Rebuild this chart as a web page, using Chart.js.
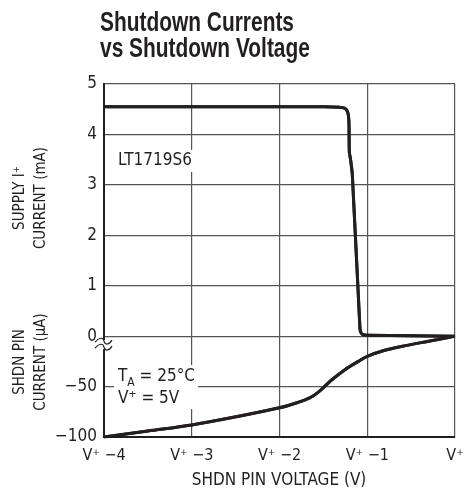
<!DOCTYPE html>
<html><head><meta charset="utf-8">
<script src="https://cdn.jsdelivr.net/npm/chart.js@4.4.1/dist/chart.umd.min.js"></script>
<style>html,body{margin:0;padding:0;background:#fff}canvas{display:block}</style>
</head><body>
<canvas id="c" width="464" height="495"></canvas>
<script>
// Supply I+ current (mA) vs SHDN pin voltage (V relative to V+)
const supplyV = [-4, -3, -2, -1.5, -1.32, -1.26, -1.23, -1.215, -1.208, -1.204, -1.19, -1.17, -1.083, -1.072, -1.05, -1.0, -0.5, 0];
const supplyI = [4.55, 4.55, 4.55, 4.55, 4.54, 4.52, 4.47, 4.38, 4.2, 3.65, 3.5, 3.2, 0.15, 0.07, 0.03, 0.02, 0.01, 0.0];
// SHDN pin current (µA)
const shdnV = [-4, -3.5, -3, -2.5, -2, -1.8, -1.65, -1.55, -1.4, -1.25, -1.1, -1.0, -0.8, -0.6, -0.3, 0];
const shdnI = [-100, -94, -88, -80, -71, -66, -61, -55, -43, -33, -25, -20, -14, -10, -5, 0];
// axis ticks
const xTicks = [-4, -3, -2, -1, 0];
const xTickLabels = ["V\u207A \u22124", "V\u207A \u22123", "V\u207A \u22122", "V\u207A \u22121", "V\u207A"];
const yTicks = [-2, -1, 0, 1, 2, 3, 4, 5];
const yTickLabels = ["\u2212100", "\u221250", "0", "1", "2", "3", "4", "5"];
const uAPerDivision = 50;

const FONT = "'Liberation Sans Narrow','DejaVu Sans Condensed','Liberation Sans',sans-serif";

const supplyData = supplyV.map((v, i) => ({x: v, y: supplyI[i]}));
const shdnData = shdnV.map((v, i) => ({x: v, y: shdnI[i] / uAPerDivision}));

const decor = {
  id: 'decor',
  afterDraw(chart) {
    const ctx = chart.ctx;
    const ca = chart.chartArea;
    const ys = chart.scales.y;
    ctx.save();
    // title (condensed bold)
    ctx.fillStyle = '#231f20';
    ctx.textAlign = 'left';
    ctx.textBaseline = 'alphabetic';
    ctx.font = "bold 27px 'Liberation Sans', sans-serif";
    const w1 = ctx.measureText('Shutdown Currents').width;
    const sx = 194 / w1;
    ctx.save();
    ctx.translate(100, 0);
    ctx.scale(sx, 1);
    ctx.fillText('Shutdown Currents', 0, 31);
    ctx.fillText('vs Shutdown Voltage', 0, 57);
    ctx.restore();
    // x title
    ctx.font = "17px " + FONT;
    ctx.textAlign = 'center';
    ctx.textBaseline = 'middle';
    ctx.fillText('SHDN PIN VOLTAGE (V)', 279, 481);
    // y titles
    function vtext(lines, cx, cy) {
      ctx.save();
      ctx.translate(cx, cy);
      ctx.rotate(-Math.PI / 2);
      ctx.textAlign = 'center';
      ctx.textBaseline = 'middle';
      lines.forEach((l, i) => ctx.fillText(l, 0, i * 21));
      ctx.restore();
    }
    ctx.font = "15px " + FONT;
    vtext(['SUPPLY I\u207A', 'CURRENT (mA)'], 20, 198);
    vtext(['SHDN PIN', 'CURRENT (\u00B5A)'], 20, 362);
    // annotations with white backgrounds
    ctx.font = "17px " + FONT;
    let w = ctx.measureText('LT1719S6').width;
    ctx.fillStyle = '#fff';
    ctx.fillRect(114, 150, w + 8, 22);
    ctx.fillStyle = '#231f20';
    ctx.textAlign = 'left';
    ctx.textBaseline = 'middle';
    ctx.fillText('LT1719S6', 118, 161);
    // T_A = 25°C with subscript
    ctx.fillStyle = '#fff';
    ctx.fillRect(114, 365, 84, 44);
    ctx.fillStyle = '#231f20';
    ctx.fillText('T', 118, 377);
    let tw = ctx.measureText('T').width;
    ctx.font = "12px " + FONT;
    ctx.fillText('A', 118 + tw, 383);
    let aw = ctx.measureText('A').width;
    ctx.font = "17px " + FONT;
    ctx.fillText(' = 25\u00B0C', 118 + tw + aw, 377);
    ctx.fillText('V\u207A = 5V', 118, 399);
    // redraw curves on top of label boxes
    chart.getSortedVisibleDatasetMetas().forEach(m => m.controller.draw());
    // axis break
    const by = ys.getPixelForValue(0) + 8;
    ctx.fillStyle = '#fff';
    ctx.fillRect(ca.left - 3, by - 4, 6, 9);
    ctx.strokeStyle = '#231f20';
    ctx.lineWidth = 1.2;
    [by - 3, by + 3].forEach(yy => {
      ctx.beginPath();
      ctx.moveTo(ca.left - 9, yy + 1);
      ctx.bezierCurveTo(ca.left - 5, yy - 4, ca.left - 1, yy - 4, ca.left, yy);
      ctx.bezierCurveTo(ca.left + 1, yy + 4, ca.left + 5, yy + 4, ca.left + 8, yy - 1);
      ctx.stroke();
    });
    ctx.restore();
  }
};

new Chart(document.getElementById('c'), {
  type: 'line',
  data: {
    datasets: [
      {data: supplyData, borderColor: '#231f20', borderWidth: 3, pointRadius: 0, tension: 0.25, fill: false},
      {data: shdnData, borderColor: '#231f20', borderWidth: 3, pointRadius: 0, tension: 0.35, fill: false}
    ]
  },
  options: {
    responsive: false,
    animation: false,
    devicePixelRatio: 1,
    layout: {padding: {top: 84, right: 9, left: 0, bottom: 0}},
    plugins: {legend: {display: false}, tooltip: {enabled: false}},
    scales: {
      x: {
        type: 'linear', min: -4, max: 0,
        afterBuildTicks: s => { s.ticks = xTicks.map(v => ({value: v})); },
        afterFit: s => { s.height = 58; s.paddingLeft = 0; s.paddingRight = 0; },
        grid: {color: '#555', lineWidth: 1.2, drawTicks: false},
        border: {color: '#231f20', width: 2},
        ticks: {
          padding: 9, color: '#231f20', maxRotation: 0,
          font: {family: FONT, size: 16},
          callback: v => xTickLabels[xTicks.indexOf(v)]
        }
      },
      y: {
        type: 'linear', min: -2, max: 5,
        afterBuildTicks: s => { s.ticks = yTicks.map(v => ({value: v})); },
        afterFit: s => { s.width = 104; s.paddingTop = 0; s.paddingBottom = 0; },
        grid: {color: '#555', lineWidth: 1.2, drawTicks: false},
        border: {color: '#231f20', width: 2},
        ticks: {
          padding: 7, color: '#231f20',
          font: {family: FONT, size: 17},
          callback: v => yTickLabels[yTicks.indexOf(v)]
        }
      }
    }
  },
  plugins: [decor]
});
</script>
</body></html>
